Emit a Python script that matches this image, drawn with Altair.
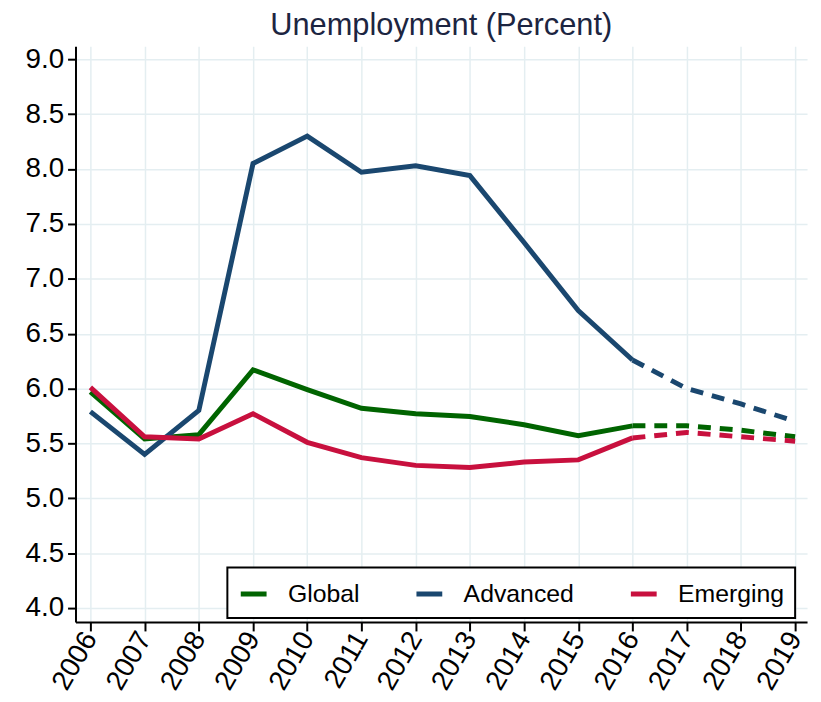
import altair as alt
import pandas as pd

years = list(range(2006, 2020))
global_vals = [5.97, 5.54, 5.58, 6.17, 5.99, 5.82, 5.77, 5.745, 5.67, 5.57, 5.66, 5.66, 5.62, 5.56]
advanced_vals = [5.79, 5.40, 5.80, 8.05, 8.30, 7.97, 8.03, 7.94, 7.33, 6.71, 6.26, 6.00, 5.86, 5.70]
emerging_vals = [6.01, 5.56, 5.54, 5.77, 5.51, 5.37, 5.30, 5.28, 5.33, 5.35, 5.55, 5.60, 5.56, 5.52]

series_names = ["Global", "Advanced", "Emerging"]
series_colors = ["#006400", "#1a476f", "#c8103e"]
last_actual = 2016

rows = []
for name, vals in zip(series_names, [global_vals, advanced_vals, emerging_vals]):
    for y, v in zip(years, vals):
        rows.append({"year": y, "value": v, "series": name})
df = pd.DataFrame(rows)
actual = df[df["year"] <= last_actual]
proj = df[df["year"] >= last_actual]

FONT = "Liberation Sans"

x_enc = alt.X(
    "year:Q",
    scale=alt.Scale(domain=[2005.725, 2019.22], nice=False, zero=False),
    axis=alt.Axis(
        values=years, format="d", title=None, labelAngle=-60, labelAlign="right",
        labelBaseline="middle", labelFontSize=28, labelFont=FONT, labelColor="black",
        labelOverlap=False, labelFlush=False,
        tickSize=9, tickWidth=2, tickColor="black", domainColor="black", domainWidth=2,
        grid=True, gridColor="#e4eef1", gridWidth=1.5, labelPadding=3,
    ),
)
y_enc = alt.Y(
    "value:Q",
    scale=alt.Scale(domain=[3.873, 9.118], nice=False, zero=False),
    axis=alt.Axis(
        values=[4.0, 4.5, 5.0, 5.5, 6.0, 6.5, 7.0, 7.5, 8.0, 8.5, 9.0], format=".1f",
        title=None, labelFontSize=28, labelFont=FONT, labelColor="black",
        labelOverlap=False,
        tickSize=8, tickWidth=2, tickColor="black", domainColor="black", domainWidth=2,
        grid=True, gridColor="#e4eef1", gridWidth=1.5, labelPadding=4,
    ),
)
color_scale = alt.Scale(domain=series_names, range=series_colors)

solid = alt.Chart(actual).mark_line(strokeWidth=5).encode(
    x=x_enc, y=y_enc,
    color=alt.Color(
        "series:N", scale=color_scale, sort=series_names,
        legend=alt.Legend(
            title=None, orient="none", legendX=153, legendY=525, direction="horizontal",
            symbolType="stroke", symbolSize=676, symbolStrokeWidth=5,
            labelFontSize=25, labelFont=FONT, labelColor="black", labelOffset=19,
            columnPadding=46, padding=11, strokeColor="black", fillColor="white",
            symbolDash=[1, 0],
        ),
    ),
)
dashed = alt.Chart(proj).mark_line(strokeWidth=5, strokeDash=[13, 9]).encode(
    x=x_enc, y=y_enc,
    color=alt.Color("series:N", scale=color_scale, legend=None),
)

chart = alt.layer(solid, dashed).properties(
    width=737, height=580,
    title=alt.TitleParams("Unemployment (Percent)", fontSize=31, font=FONT,
                          fontWeight="normal", color="#1c2541", anchor="middle", offset=3),
    padding={"left": 17, "top": 0, "right": 5, "bottom": 0},
).configure_view(stroke=None).configure_legend(strokeWidth=2)

chart.save("out.html", embed_options={"renderer": "svg", "actions": False})
